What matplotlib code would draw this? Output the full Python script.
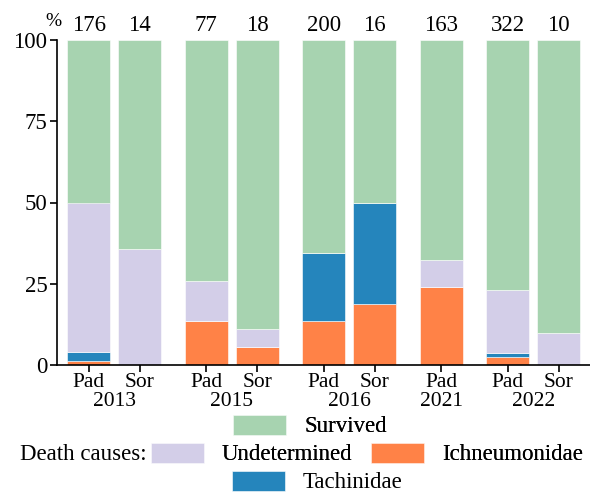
"""Stacked bar chart of larval fate (survived / death causes) per site and year."""

import matplotlib
matplotlib.use("Agg")
import matplotlib.pyplot as plt
from matplotlib.patches import Patch
import numpy as np

plt.rcParams["font.family"] = ["Liberation Serif", "DejaVu Serif"]

# data (percent of individuals), one entry per bar
YEARS = ["2013", "2015", "2016", "2021", "2022"]
SITES = [["Pad", "Sor"], ["Pad", "Sor"], ["Pad", "Sor"], ["Pad"], ["Pad", "Sor"]]
N_TOTAL = [176, 14, 77, 18, 200, 16, 163, 322, 10]
ICHNEUMONIDAE = [1.3, 0.0, 13.6, 5.6, 13.5, 18.75, 24.0, 2.4, 0.0]
TACHINIDAE = [2.8, 0.0, 0.0, 0.0, 20.9, 31.25, 0.0, 1.3, 0.0]
UNDETERMINED = [45.9, 35.7, 12.3, 5.5, 0.0, 0.0, 8.3, 19.5, 10.0]
SURVIVED = [50.0, 64.3, 74.1, 88.9, 65.6, 50.0, 67.7, 76.8, 90.0]

COLORS = {
    "Survived": "#a7d3b0",
    "Undetermined": "#d3cee8",
    "Ichneumonidae": "#ff8247",
    "Tachinidae": "#2585bc",
}

BAR_W = 0.84
GROUP_GAP = 0.3


def bar_positions():
    xs, centers, labels = [], [], []
    pos = 0.0
    for sites in SITES:
        start = pos
        for s in sites:
            xs.append(pos)
            labels.append(s)
            pos += 1.0
        centers.append((start + pos - 1.0) / 2)
        pos += GROUP_GAP
    return np.array(xs), centers, labels


def main() -> None:
    xs, centers, site_labels = bar_positions()

    fig = plt.figure(figsize=(5.9, 4.92), dpi=100)
    ax = fig.add_axes([57 / 590, 1 - 365 / 492, 533 / 590, 325 / 492])

    layers = [
        ("Ichneumonidae", ICHNEUMONIDAE),
        ("Tachinidae", TACHINIDAE),
        ("Undetermined", UNDETERMINED),
        ("Survived", SURVIVED),
    ]
    bottom = np.zeros(len(xs))
    for name, vals in layers:
        vals = np.array(vals)
        ax.bar(xs, vals, BAR_W, bottom=bottom, color=COLORS[name],
               edgecolor="white", linewidth=0.4)
        bottom += vals

    for x, n in zip(xs, N_TOTAL):
        ax.annotate(str(n), (x, 100), xytext=(0, 3), textcoords="offset points",
                    ha="center", va="bottom", fontsize=16.5)

    ax.set_ylim(0, 100)
    ax.set_xlim(-0.62, 9.81)
    ax.set_yticks([0, 25, 50, 75, 100])
    ax.tick_params(axis="y", labelsize=16.5, length=5, width=1.2, pad=2)
    ax.xaxis.remove_overlapping_locs = False
    ax.set_xticks(xs)
    ax.set_xticklabels(site_labels)
    ax.tick_params(axis="x", which="major", labelsize=15.5, length=5, width=1.2, pad=1)
    ax.set_xticks(centers, minor=True)
    ax.set_xticklabels(YEARS, minor=True)
    ax.tick_params(axis="x", which="minor", labelsize=15.5, length=0, pad=19.5)

    for side in ("top", "right"):
        ax.spines[side].set_visible(False)
    for side in ("left", "bottom"):
        ax.spines[side].set_linewidth(1.2)

    ax.annotate("%", (0, 1), xycoords="axes fraction", xytext=(-2.5, 7),
                textcoords="offset points", ha="center", va="bottom", fontsize=14)

    leg_kw = dict(frameon=False, borderpad=0, borderaxespad=0, fontsize=16.5,
                  handlelength=2.3, handleheight=0.96, handletextpad=0.8,
                  loc="center left")
    patch = {k: Patch(facecolor=c, edgecolor="white", linewidth=0.4)
             for k, c in COLORS.items()}

    leg1 = fig.legend([patch["Survived"]], ["Survived"],
                      bbox_to_anchor=(233 / 590, 1 - 426 / 492), **leg_kw)
    leg2 = fig.legend([patch["Undetermined"], patch["Ichneumonidae"]],
                      ["Undetermined", "Ichneumonidae"], ncol=2, columnspacing=0.8,
                      bbox_to_anchor=(151 / 590, 1 - 454 / 492), **leg_kw)
    fig.legend([patch["Tachinidae"]], ["Tachinidae"],
               bbox_to_anchor=(232 / 590, 1 - 482 / 492), **leg_kw)
    fig.add_artist(leg1)
    fig.add_artist(leg2)
    fig.text(147 / 590, 1 - 454 / 492, "Death causes:", ha="right", va="center",
             fontsize=16.5)

    fig.savefig("out.png", dpi=100)
    plt.close(fig)


if __name__ == "__main__":
    main()
